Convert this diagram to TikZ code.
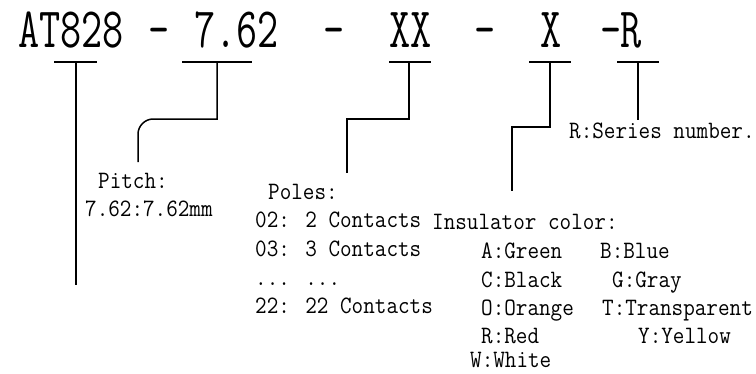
\documentclass[tikz,border=0pt]{standalone}
\usepackage{fontspec}
\newfontfamily\mymono{Latin Modern Mono}[FakeStretch=0.9]
\newfontfamily\mytitle{Latin Modern Mono}[FakeStretch=0.72]
\begin{document}
\begin{tikzpicture}[x=1pt,y=-1pt,
  txt/.style={anchor=base west, inner sep=0pt, font=\mymono\fontsize{25}{30}\selectfont},
  ttl/.style={anchor=base west, inner sep=0pt, font=\mytitle\fontsize{57}{60}\selectfont},
  dsh/.style={anchor=base, inner sep=0pt, font=\mytitle\fontsize{57}{60}\selectfont},
  ln/.style={line width=1.5pt}]
\useasboundingbox (0,0) rectangle (756,373);
% title
\node[ttl] (t1) at (18,47) {AT828};
\node[dsh] (d1) at (159,47) {-};
\node[ttl] (t2) at (194,47) {7.62};
\node[dsh] (d2) at (334,47) {-};
\node[ttl] (t3) at (389,47) {XX};
\node[dsh] (d3) at (485,47) {-};
\node[ttl] (t4) at (540,47) {X};
\node[dsh] (d4) at (611,47) {-};
\node[ttl] (t5) at (620,47) {R};
% labels
\node[txt] (rs) at (569,138) {R:Series number.};
\node[txt] (pt) at (98,188) {Pitch:};
\node[txt] (pv) at (85,216) {7.62:7.62mm};
\node[txt] (po) at (268,199) {Poles:};
\node[txt] (p2) at (255,227) {02: 2 Contacts};
\node[txt] (p3) at (255,256) {03: 3 Contacts};
\node[txt] (pd) at (255,285) {... ...};
\node[txt] (p22) at (255,313) {22: 22 Contacts};
\node[txt] (ic) at (432,229) {Insulator color:};
\node[txt] (cA) at (481,258) {A:Green};
\node[txt] (cB) at (600,258) {B:Blue};
\node[txt] (cC) at (481,287) {C:Black};
\node[txt] (cG) at (612,287) {G:Gray};
\node[txt] (cO) at (481,315) {O:Orange};
\node[txt] (cT) at (602,315) {T:Transparent};
\node[txt] (cR) at (481,343) {R:Red};
\node[txt] (cY) at (638,343) {Y:Yellow};
\node[txt] (cW) at (470,367) {W:White};
% coordinates
\coordinate (a1) at (54,62); \coordinate (a2) at (97,62);
\coordinate (a3) at (76,62); \coordinate (a4) at (76,285);
\coordinate (b1) at (182,62); \coordinate (b2) at (252,62);
\coordinate (b3) at (217,62); \coordinate (b4) at (217,119);
\coordinate (b5) at (153,119); \coordinate (b6) at (138,134); \coordinate (b7) at (138,162);
\coordinate (c1) at (389,62); \coordinate (c2) at (431,62);
\coordinate (c3) at (409,62); \coordinate (c4) at (409,119);
\coordinate (c5) at (347,119); \coordinate (c6) at (347,173);
\coordinate (e1) at (529,62); \coordinate (e2) at (571,62);
\coordinate (e3) at (550,62); \coordinate (e4) at (550,127);
\coordinate (e5) at (512,127); \coordinate (e6) at (512,191);
\coordinate (f1) at (617,62); \coordinate (f2) at (659,62);
\coordinate (f3) at (638,62); \coordinate (f4) at (638,120);
% connectors
\draw[ln] (a1) -- (a2); \draw[ln] (a3) -- (a4);
\draw[ln] (b1) -- (b2);
\draw[ln] (b3) -- (b4) -- (b5) .. controls (145,119) and (138,126) .. (b6) -- (b7);
\draw[ln] (c1) -- (c2); \draw[ln] (c3) -- (c4) -- (c5) -- (c6);
\draw[ln] (e1) -- (e2); \draw[ln] (e3) -- (e4) -- (e5) -- (e6);
\draw[ln] (f1) -- (f2); \draw[ln] (f3) -- (f4);
\end{tikzpicture}
\end{document}
